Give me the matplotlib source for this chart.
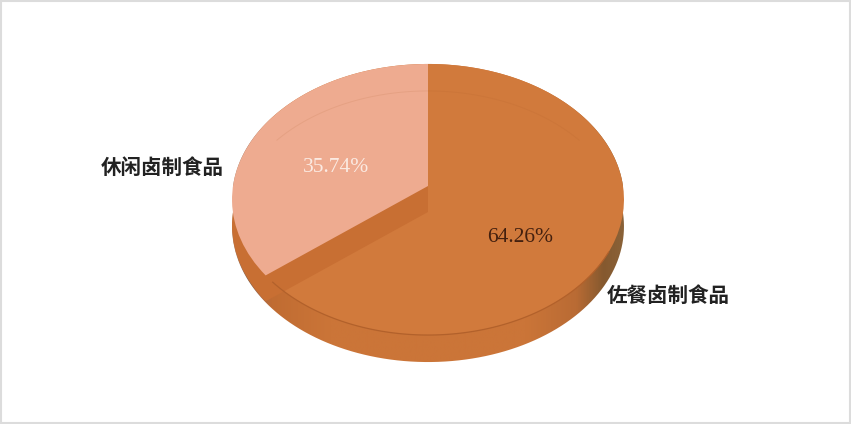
import numpy as np
import matplotlib
matplotlib.use('Agg')
import matplotlib.pyplot as plt
from matplotlib.colors import LinearSegmentedColormap
from matplotlib.patches import Rectangle
from matplotlib.path import Path
from matplotlib.transforms import Transform

plt.rcParams['font.family'] = ['Noto Sans CJK SC', 'DejaVu Sans']

# chart data
categories = ['佐餐卤制食品', '休闲卤制食品']
shares = [64.26, 35.74]
slice_colors = ['#d17a3c', '#eeab90']
value_colors = ['#43200f', '#fbeae2']


class TiltedDisc(Transform):
    # unit circle -> pixel coords of a disc seen in perspective
    input_dims = 2
    output_dims = 2

    def __init__(self, drop=0):
        super().__init__()
        self.drop = drop

    def transform_non_affine(self, values):
        values = np.asarray(values, dtype=float)
        w = 1 + 0.0996 * values[:, 1]
        x = 428 + 195 * values[:, 0] / w
        y = 186 + self.drop - 134.2 * values[:, 1] / w
        return np.column_stack([x, y])


fig = plt.figure(figsize=(8.51, 4.24), dpi=100)
ax = fig.add_axes([0, 0, 1, 1])
top = TiltedDisc(0)
low = TiltedDisc(27)

# side wall: gradient clipped to the outline of the extruded disc
theta_up = np.linspace(0, np.pi, 100)
theta_down = np.linspace(np.pi, 2 * np.pi, 100)
outline = np.vstack([
    top.transform(np.column_stack([np.cos(theta_up), np.sin(theta_up)])),
    low.transform(np.column_stack([np.cos(theta_down), np.sin(theta_down)])),
])
outline = np.vstack([outline, outline[:1]])
wall_cmap = LinearSegmentedColormap.from_list('wall', [
    (0.00, '#a98672'), (0.04, '#80604c'), (0.07, '#a5694a'), (0.10, '#c06c32'),
    (0.25, '#cb7538'), (0.75, '#cb7538'), (0.88, '#b96b34'),
    (0.95, '#85592f'), (1.00, '#8a6238'),
])
im = ax.imshow(np.linspace(0, 1, 256)[None, :], cmap=wall_cmap, aspect='auto',
               extent=(232, 624, 364, 60), zorder=1)
im.set_clip_path(Path(outline), ax.transData)

# top face, inner wall under the light slice, then the light slice itself
wedges, _ = ax.pie(shares, colors=slice_colors, startangle=90, counterclock=False)
for w in wedges:
    w.set_transform(top + ax.transData)
    w.set_zorder(2)
    w.set_linewidth(0)
wedges[1].set_zorder(4)

inner, _ = ax.pie(shares, colors=['none', '#c86f33'], startangle=90, counterclock=False)
inner[1].set_transform(TiltedDisc(26) + ax.transData)
inner[1].set_zorder(3)
inner[1].set_linewidth(0)
inner[1].set_clip_path(Path.unit_circle(), top + ax.transData)
inner[0].set_visible(False)

# faint back edge seen through the top, darker front edge of the top
back = np.linspace(np.radians(35), np.radians(145), 100)
ax.plot(np.cos(back), np.sin(back), transform=low + ax.transData,
        color='#a85a28', lw=0.7, alpha=0.12, zorder=5)
front = np.linspace(np.radians(222), np.radians(332), 100)
ax.plot(np.cos(front), np.sin(front), transform=top + ax.transData,
        color='#b2612b', lw=0.9, zorder=5)

# labels
ax.text(520, 238, f'{shares[0]:.2f}%', color=value_colors[0], fontsize=15.5,
        family='Liberation Serif', ha='center', va='center', zorder=6)
ax.text(336, 168, f'{shares[1]:.2f}%', color=value_colors[1], fontsize=15.5,
        family='Liberation Serif', ha='center', va='center', zorder=6)
ax.text(668, 295, categories[0], color='#222222', fontsize=14.8, fontweight='bold',
        ha='center', va='center', zorder=6)
ax.text(162, 167, categories[1], color='#222222', fontsize=14.8, fontweight='bold',
        ha='center', va='center', zorder=6)

# grey frame round the picture
ax.add_patch(Rectangle((1, 1), 849, 422, fc='none', ec='#dcdcdc', lw=1.5, zorder=7))

ax.set_aspect('auto')
ax.set_xlim(0, 851)
ax.set_ylim(424, 0)
ax.axis('off')
fig.savefig('out.png', dpi=100)
